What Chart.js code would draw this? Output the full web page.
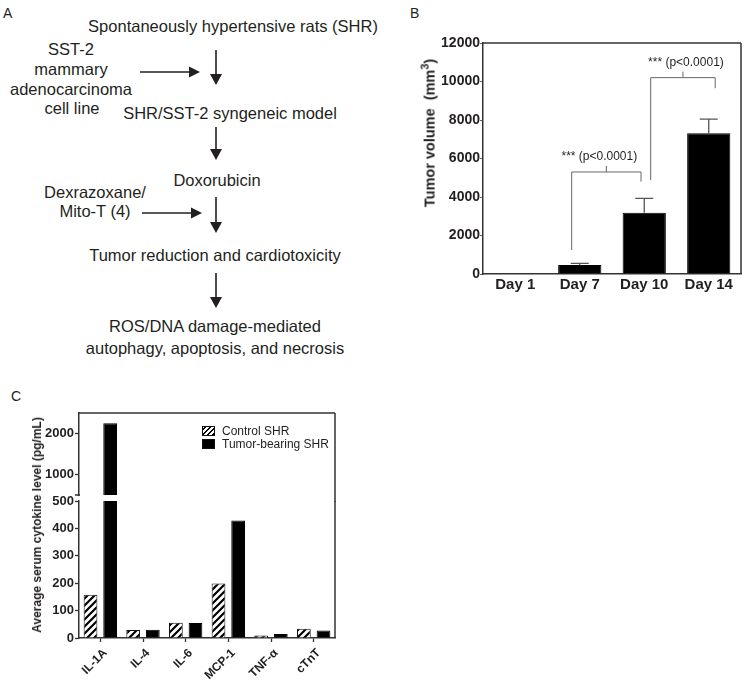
<!DOCTYPE html>
<html>
<head>
<meta charset="utf-8">
<script src="https://cdn.jsdelivr.net/npm/chart.js@4.4.1/dist/chart.umd.min.js"></script>
<style>
  body { margin: 0; width: 744px; height: 682px; background: #fff; position: relative; overflow: hidden;
         font-family: "Liberation Sans", Arial, sans-serif; color: #231f20; }
  canvas, svg { position: absolute; }
  .tag { position: absolute; font-size: 14px; line-height: 1; }
  .ytitle { position: absolute; transform: translate(-50%, -50%) rotate(-90deg); white-space: nowrap; font-weight: bold; }
  .ytitle sup { font-size: 0.75em; }
  .legend { position: absolute; font-size: 12px; }
  .legend .row { height: 13px; line-height: 13px; white-space: nowrap; }
  .legend .sw { display: inline-block; width: 11px; height: 8px; border: 1px solid #111; vertical-align: -1px; margin-right: 7px; }
  .legend .hatch { background: repeating-linear-gradient(-45deg, #000 0 1.6px, #fff 1.6px 3.6px); }
  .legend .solid { background: #000; }
</style>
</head>
<body>

<!-- panel A: flow scheme -->
<div class="tag" style="left:3px;top:6px">A</div>
<svg width="390" height="370" style="left:0;top:0" font-family="Liberation Sans, Arial, sans-serif" font-size="16.5" fill="#231f20">
  <g text-anchor="middle">
    <text x="233" y="32">Spontaneously hypertensive rats (SHR)</text>
    <text x="71" y="55">SST-2</text>
    <text x="71" y="75">mammary</text>
    <text x="71" y="95">adenocarcinoma</text>
    <text x="72" y="114">cell line</text>
    <text x="230" y="119">SHR/SST-2 syngeneic model</text>
    <text x="217" y="186">Doxorubicin</text>
    <text x="95" y="198">Dexrazoxane/</text>
    <text x="95" y="217">Mito-T (4)</text>
    <text x="215" y="261">Tumor reduction and cardiotoxicity</text>
    <text x="215" y="332">ROS/DNA damage-mediated</text>
    <text x="215" y="354">autophagy, apoptosis, and necrosis</text>
  </g>
  <g stroke="#231f20" stroke-width="1.6">
    <line x1="216" y1="50" x2="216" y2="76"/>
    <line x1="216" y1="127" x2="216" y2="151"/>
    <line x1="216" y1="197" x2="216" y2="224"/>
    <line x1="216" y1="273" x2="216" y2="299"/>
    <line x1="140" y1="72" x2="191" y2="72"/>
    <line x1="142" y1="213" x2="193" y2="213"/>
  </g>
  <g fill="#231f20">
    <polygon points="210,74 222,74 216,85"/>
    <polygon points="210,149 222,149 216,160"/>
    <polygon points="210,222 222,222 216,233"/>
    <polygon points="210,297 222,297 216,308"/>
    <polygon points="189,66.5 189,77.5 200,72"/>
    <polygon points="191,207.5 191,218.5 202,213"/>
  </g>
</svg>

<!-- panel B -->
<div class="tag" style="left:410px;top:6px">B</div>
<canvas id="chartB" width="354" height="300" style="left:390px;top:20px"></canvas>
<div class="ytitle" style="left:428px;top:133px;font-size:14.5px">Tumor volume&nbsp; (mm<sup>3</sup>)</div>

<!-- panel C -->
<div class="tag" style="left:11px;top:389px">C</div>
<canvas id="chartCTop" width="370" height="125" style="left:0;top:380px"></canvas>
<canvas id="chartCBottom" width="370" height="202" style="left:0;top:480px"></canvas>
<div class="ytitle" style="left:37px;top:525px;font-size:12px">Average serum cytokine level (pg/mL)</div>
<div class="legend" style="left:202px;top:425px">
  <div class="row"><span class="sw hatch"></span>Control SHR</div>
  <div class="row"><span class="sw solid"></span>Tumor-bearing SHR</div>
</div>

<script>
// panel B data
const days = ['Day 1', 'Day 7', 'Day 10', 'Day 14'];
const tumorVolume = [0, 470, 3185, 7310];
const tumorVolumeErr = [0, 85, 745, 740];
const comparisons = [
  { from: 0.875, to: 1.95, y: 5300, fromBase: 1250, toBase: 4800, text: '*** (p<0.0001)', dx: -7 },
  { from: 2.1, to: 3.1, y: 10200, fromBase: 4880, toBase: 9650, text: '*** (p<0.0001)', dx: 3 }
];

// panel C data
const cytokines = ['IL-1A', 'IL-4', 'IL-6', 'MCP-1', 'TNF-α', 'cTnT'];
const controlShr = [158, 29, 56, 199, 9, 34];
const tumorShr = [2250, 30, 55, 429, 15, 27];
const upperTicks = [1000, 2000];

const FONT = '"Liberation Sans", Arial, sans-serif';
const INK = '#231f20';
const AXIS = '#333';
Chart.defaults.font.family = FONT;
Chart.defaults.color = INK;
Chart.defaults.animation = false;

function hatchPattern() {
  const c = document.createElement('canvas');
  c.width = c.height = 7;
  const g = c.getContext('2d');
  g.fillStyle = '#fff';
  g.fillRect(0, 0, 7, 7);
  g.strokeStyle = '#000';
  g.lineWidth = 2.2;
  g.beginPath();
  g.moveTo(0, 7); g.lineTo(7, 0);
  g.moveTo(-3.5, 3.5); g.lineTo(3.5, -3.5);
  g.moveTo(3.5, 10.5); g.lineTo(10.5, 3.5);
  g.stroke();
  return g.createPattern(c, 'repeat');
}

// top/right box lines the axes don't draw
const framePlugin = {
  id: 'frame',
  afterDatasetsDraw(chart, args, opts) {
    const { ctx, chartArea: a } = chart;
    ctx.save();
    ctx.strokeStyle = AXIS;
    ctx.lineWidth = 1.5;
    ctx.beginPath();
    if (opts.top) { ctx.moveTo(a.left, a.top); ctx.lineTo(a.right, a.top); }
    if (opts.right) { ctx.moveTo(a.right, a.top); ctx.lineTo(a.right, a.bottom + (opts.extendBottom || 0)); }
    if (opts.breakMark) { ctx.moveTo(a.left - 4, a.bottom); ctx.lineTo(a.left + 1, a.bottom); }
    ctx.stroke();
    ctx.restore();
  }
};

const errorBarPlugin = {
  id: 'errorBars',
  afterDatasetsDraw(chart) {
    const { ctx } = chart;
    const y = chart.scales.y;
    ctx.save();
    ctx.strokeStyle = '#555';
    ctx.lineWidth = 1.3;
    chart.getDatasetMeta(0).data.forEach((bar, i) => {
      if (!tumorVolumeErr[i]) return;
      const top = y.getPixelForValue(tumorVolume[i] + tumorVolumeErr[i]);
      ctx.beginPath();
      ctx.moveTo(bar.x, bar.y);
      ctx.lineTo(bar.x, top);
      ctx.moveTo(bar.x - 9, top);
      ctx.lineTo(bar.x + 9, top);
      ctx.stroke();
    });
    ctx.restore();
  }
};

const bracketPlugin = {
  id: 'brackets',
  afterDatasetsDraw(chart) {
    const { ctx } = chart;
    const x = chart.scales.x, y = chart.scales.y;
    ctx.save();
    ctx.strokeStyle = '#666';
    ctx.lineWidth = 1;
    ctx.fillStyle = INK;
    ctx.font = '12px ' + FONT;
    ctx.textAlign = 'center';
    ctx.textBaseline = 'bottom';
    comparisons.forEach(c => {
      const x1 = x.getPixelForValue(c.from), x2 = x.getPixelForValue(c.to);
      const yb = y.getPixelForValue(c.y);
      const xm = (x1 + x2) / 2;
      ctx.beginPath();
      ctx.moveTo(x1, y.getPixelForValue(c.fromBase));
      ctx.lineTo(x1, yb);
      ctx.lineTo(x2, yb);
      ctx.lineTo(x2, y.getPixelForValue(c.toBase));
      ctx.moveTo(xm, yb);
      ctx.lineTo(xm, yb - 6);
      ctx.stroke();
      ctx.fillText(c.text, xm + c.dx, yb - 9);
    });
    ctx.restore();
  }
};

const plainNumber = { useGrouping: false };

new Chart(document.getElementById('chartB'), {
  type: 'bar',
  data: {
    labels: days,
    datasets: [{
      data: tumorVolume,
      backgroundColor: '#000',
      borderColor: '#000',
      borderWidth: 1,
      barPercentage: 0.67,
      categoryPercentage: 1
    }]
  },
  options: {
    responsive: false,
    devicePixelRatio: 1,
    layout: { padding: { left: 0, top: 23, right: 3, bottom: 16 } },
    plugins: { legend: { display: false }, tooltip: { enabled: false }, frame: { top: true, right: true } },
    scales: {
      x: {
        grid: { drawOnChartArea: false, drawTicks: false },
        border: { color: AXIS, width: 1.5 },
        ticks: { font: { size: 15, weight: 'bold' }, color: INK, padding: 2 },
        afterFit: s => { s.height = 30; }
      },
      y: {
        min: 0, max: 12000,
        grid: { drawOnChartArea: false, tickLength: 3, color: '#666', tickWidth: 1 },
        border: { color: AXIS, width: 1.5 },
        ticks: { stepSize: 2000, format: plainNumber, font: { size: 14, weight: 'bold' }, color: INK, padding: 0 },
        afterFit: s => { s.width = 93; }
      }
    }
  },
  plugins: [framePlugin, errorBarPlugin, bracketPlugin]
});

const hatch = hatchPattern();
function cytokineDatasets() {
  return [
    { label: 'Control SHR', data: controlShr, backgroundColor: hatch, borderColor: '#111', borderWidth: 1,
      barPercentage: 0.7, categoryPercentage: 0.92, clip: 0 },
    { label: 'Tumor-bearing SHR', data: tumorShr, backgroundColor: '#000', borderColor: '#000', borderWidth: 1,
      barPercentage: 0.7, categoryPercentage: 0.92, clip: 0 }
  ];
}
const yTickFont = { size: 13, weight: 'bold' };

// upper segment of the broken axis
new Chart(document.getElementById('chartCTop'), {
  type: 'bar',
  data: { labels: cytokines, datasets: cytokineDatasets() },
  options: {
    responsive: false,
    devicePixelRatio: 1,
    layout: { padding: { left: 0, top: 33, right: 35, bottom: 10 } },
    plugins: { legend: { display: false }, tooltip: { enabled: false },
               frame: { top: true, right: true, extendBottom: 7, breakMark: true } },
    scales: {
      x: { display: false },
      y: {
        min: 500, max: 2500,
        afterBuildTicks: s => { s.ticks = upperTicks.map(v => ({ value: v })); },
        grid: { drawOnChartArea: false, tickLength: 4, color: AXIS, tickWidth: 1.3 },
        border: { color: AXIS, width: 1.5 },
        ticks: { format: plainNumber, font: yTickFont, color: INK, padding: 1 },
        afterFit: s => { s.width = 79; }
      }
    }
  },
  plugins: [framePlugin]
});

// lower segment with the category axis
new Chart(document.getElementById('chartCBottom'), {
  type: 'bar',
  data: { labels: cytokines, datasets: cytokineDatasets() },
  options: {
    responsive: false,
    devicePixelRatio: 1,
    layout: { padding: { left: 0, top: 21, right: 35, bottom: 0 } },
    plugins: { legend: { display: false }, tooltip: { enabled: false }, frame: { right: true } },
    scales: {
      x: {
        grid: { offset: false, drawOnChartArea: false, tickLength: 4, color: AXIS, tickWidth: 1.3 },
        border: { color: AXIS, width: 1.5 },
        ticks: { font: { size: 12, weight: 'bold' }, color: INK, maxRotation: 45, minRotation: 45,
                 padding: 4, labelOffset: 5, autoSkip: false },
        afterFit: s => { s.height = 44; }
      },
      y: {
        min: 0, max: 500,
        grid: { drawOnChartArea: false, tickLength: 4, color: AXIS, tickWidth: 1.3 },
        border: { color: AXIS, width: 1.5 },
        ticks: { stepSize: 100, format: plainNumber, font: yTickFont, color: INK, padding: 1 },
        afterFit: s => { s.width = 79; }
      }
    }
  },
  plugins: [framePlugin]
});
</script>
</body>
</html>
